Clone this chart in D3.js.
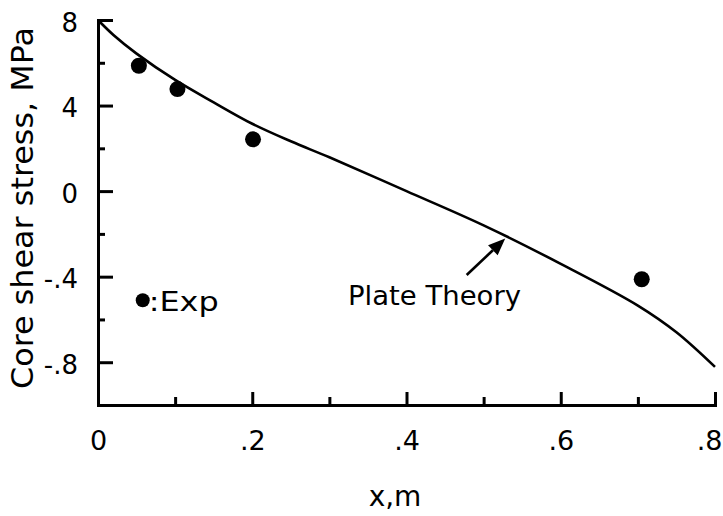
<!DOCTYPE html>
<html>
<head>
<meta charset="utf-8">
<script src="https://cdn.jsdelivr.net/npm/d3@7"></script>
<style>
  html, body { margin: 0; padding: 0; background: #fff; }
  svg { display: block; }
  text { font-family: "DejaVu Sans", sans-serif; fill: #000; }
</style>
</head>
<body>
<svg id="chart" width="723" height="516"></svg>
<script>
// ---- data ----
const expX = [0.053, 0.103, 0.201, 0.705];
const expY = [0.586, 0.477, 0.242, -0.412];

const theoryX = [0, 0.02, 0.05, 0.1, 0.15, 0.2, 0.25, 0.3, 0.4, 0.5, 0.6, 0.7, 0.75, 0.8];
const theoryY = [0.80, 0.73, 0.643, 0.52, 0.415, 0.315, 0.233, 0.158, 0.0, -0.16, -0.34, -0.535, -0.66, -0.822];

const xTickValues = [0, 0.2, 0.4, 0.6, 0.8];
const xTickLabels = ["0", ".2", ".4", ".6", ".8"];
const xMinorTicks = [0.1, 0.3, 0.5, 0.7];

const yTickValues = [-0.8, -0.4, 0, 0.4, 0.8];
const yTickLabels = ["-.8", "-.4", "0", "4", "8"];
const yMinorTicks = [-0.6, -0.2, 0.2, 0.6];

const xTitle = "x,m";
const yTitle = "Core shear stress, MPa";
const legendLabel = ":Exp";
const legendPos = [0.058, -0.51];
const theoryLabel = "Plate Theory";
const arrowFrom = [0.478, -0.392];
const arrowTo = [0.528, -0.222];

// ---- chart ----
const W = 723;
const svg = d3.select("#chart");
const x = d3.scaleLinear().domain([0, 0.8]).range([98, 715]);
const y = d3.scaleLinear().domain([-1.0, 0.8]).range([405, 20]);

// axes
const xAxis = d3.axisBottom(x)
  .tickValues(xTickValues)
  .tickFormat((d, i) => xTickLabels[i])
  .tickSizeInner(-13).tickSizeOuter(0).tickPadding(22);
const gx = svg.append("g").attr("transform", "translate(0,405)").call(xAxis);

const xMinor = d3.axisBottom(x).tickValues(xMinorTicks).tickFormat("")
  .tickSizeInner(-8).tickSizeOuter(0);
svg.append("g").attr("transform", "translate(0,405)").call(xMinor).select(".domain").remove();

const yAxis = d3.axisLeft(y)
  .tickValues(yTickValues)
  .tickFormat((d, i) => yTickLabels[i])
  .tickSizeInner(-15).tickSizeOuter(0).tickPadding(20);
const gy = svg.append("g").attr("transform", "translate(98,0)").call(yAxis);

const yMinor = d3.axisLeft(y).tickValues(yMinorTicks).tickFormat("")
  .tickSizeInner(-7).tickSizeOuter(0);
svg.append("g").attr("transform", "translate(98,0)").call(yMinor).select(".domain").remove();

svg.selectAll(".domain").attr("stroke", "#000").attr("stroke-width", 3).attr("stroke-linecap", "square");
svg.selectAll(".tick line").attr("stroke", "#000").attr("stroke-width", 3);

gx.selectAll(".tick text")
  .attr("font-size", 27)
  .attr("dy", null)
  .attr("y", 45)
  .attr("font-family", "DejaVu Sans")
  .each(function(d) {
    // keep the last label inside the picture, as in the reference
    const sel = d3.select(this);
    const bb = this.getComputedTextLength();
    const right = x(d) + bb / 2;
    if (right > W - 1) sel.attr("x", (W - 1) - right);
  });

gy.selectAll(".tick text")
  .attr("font-size", 26)
  .attr("dy", null)
  .attr("y", 11)
  .attr("x", -20)
  .attr("font-family", "DejaVu Sans");

// curve
const theoryData = theoryX.map((d, i) => [d, theoryY[i]]);
const line = d3.line().x(d => x(d[0])).y(d => y(d[1])).curve(d3.curveCatmullRom.alpha(0.5));
svg.append("path").datum(theoryData)
  .attr("d", line)
  .attr("fill", "none")
  .attr("stroke", "#000")
  .attr("stroke-width", 2.6);

// experimental points
const expData = expX.map((d, i) => [d, expY[i]]);
svg.append("g").selectAll("circle").data(expData).join("circle")
  .attr("cx", d => x(d[0]))
  .attr("cy", d => y(d[1]))
  .attr("r", 8)
  .attr("fill", "#000");

// legend
svg.append("circle")
  .attr("cx", x(legendPos[0]))
  .attr("cy", y(legendPos[1]))
  .attr("r", 7)
  .attr("fill", "#000");
svg.append("text")
  .attr("x", x(legendPos[0]) + 6)
  .attr("y", y(legendPos[1]) + 11)
  .attr("font-size", 26)
  .attr("textLength", 70)
  .attr("lengthAdjust", "spacingAndGlyphs")
  .text(legendLabel);

// annotation arrow
const ax1 = x(arrowFrom[0]), ay1 = y(arrowFrom[1]);
const ax2 = x(arrowTo[0]), ay2 = y(arrowTo[1]);
const ang = Math.atan2(ay2 - ay1, ax2 - ax1);
const headLen = 17, headW = 7;
const bx = ax2 - headLen * Math.cos(ang), by = ay2 - headLen * Math.sin(ang);
svg.append("line")
  .attr("x1", ax1).attr("y1", ay1).attr("x2", bx).attr("y2", by)
  .attr("stroke", "#000").attr("stroke-width", 2.6);
svg.append("path")
  .attr("d", d3.line()([
    [ax2, ay2],
    [bx + headW * Math.sin(ang), by - headW * Math.cos(ang)],
    [bx - headW * Math.sin(ang), by + headW * Math.cos(ang)]
  ]) + "Z")
  .attr("fill", "#000");

svg.append("text")
  .attr("x", 348)
  .attr("y", 305)
  .attr("font-size", 26)
  .attr("textLength", 173)
  .attr("lengthAdjust", "spacingAndGlyphs")
  .text(theoryLabel);

// axis titles
svg.append("text")
  .attr("x", 395)
  .attr("y", 506)
  .attr("text-anchor", "middle")
  .attr("font-size", 28)
  .text(xTitle);

svg.append("text")
  .attr("transform", "translate(33,208) rotate(-90)")
  .attr("text-anchor", "middle")
  .attr("font-size", 31)
  .attr("textLength", 362)
  .attr("lengthAdjust", "spacingAndGlyphs")
  .text(yTitle);
</script>
</body>
</html>
